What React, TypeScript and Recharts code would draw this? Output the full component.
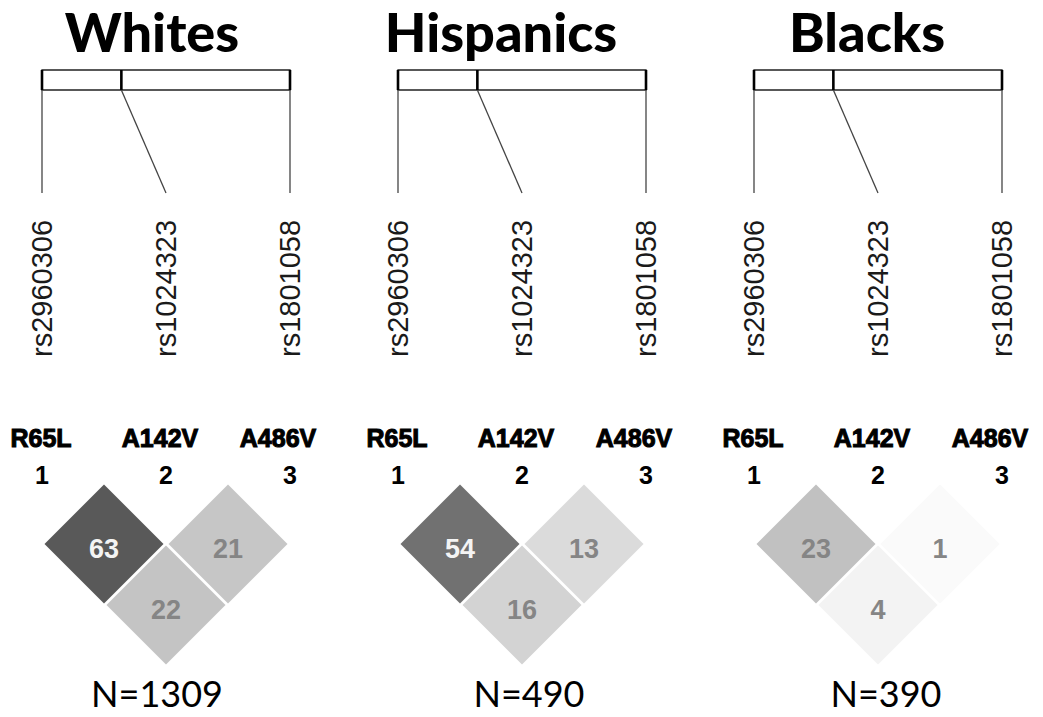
import {
  ScatterChart,
  Scatter,
  XAxis,
  YAxis,
  ReferenceArea,
  ReferenceLine,
} from "recharts";

const populations = ["Whites", "Hispanics", "Blacks"];
const sampleSizes = [1309, 490, 390];
const snpIds = ["rs2960306", "rs1024323", "rs1801058"];
const markerNames = ["R65L", "A142V", "A486V"];
const markerNumbers = [1, 2, 3];
// relative position of each SNP along the gene (first = 0, last = 1)
const snpGenePos = [0, 0.32, 1];
// pairwise LD (r2 x 100), pairs are 1-2, 2-3, 1-3
const ldPairs = [
  [0, 1],
  [1, 2],
  [0, 2],
];
const ldWhites = [63, 21, 22];
const ldHispanics = [54, 13, 16];
const ldBlacks = [23, 1, 4];
const ldByPop = [ldWhites, ldHispanics, ldBlacks];

// layout (chart units = pixels)
const W = 1043;
const H = 717;
const PANEL_DX = 356;
const MARKER_X0 = 42;
const MARKER_STEP = 124;
const GENE_X0 = 42;
const GENE_LEN = 248;
const GENE_Y0 = 70;
const GENE_Y1 = 90;
const LINK_Y = 193;
const SNP_LABEL_Y = 357;
const TITLE_Y = 52;
const TITLE_DX = [152, 145, 155];
const NAME_Y = 447;
const NAME_X = [41, 160, 278];
const NUM_Y = 484;
const LD_Y0 = 483;
const LD_ROW = 61;
const LD_HALF = 59.5;
const N_Y = 707;
const N_DX = [157, 173, 174];

const markerX = (k: number, i: number) => k * PANEL_DX + MARKER_X0 + i * MARKER_STEP;
const geneX = (k: number, i: number) => k * PANEL_DX + GENE_X0 + snpGenePos[i] * GENE_LEN;

const titles = populations.map((p, k) => ({ x: k * PANEL_DX + TITLE_DX[k], y: TITLE_Y, text: p }));
const nLabels = sampleSizes.map((n, k) => ({ x: k * PANEL_DX + N_DX[k], y: N_Y, text: `N=${n}` }));

const snpLabels = populations.flatMap((_, k) =>
  snpIds.map((id, i) => ({ x: markerX(k, i), y: SNP_LABEL_Y, text: id }))
);
const nameLabels = populations.flatMap((_, k) =>
  markerNames.map((m, i) => ({ x: k * PANEL_DX + NAME_X[i], y: NAME_Y, text: m }))
);
const numLabels = populations.flatMap((_, k) =>
  markerNumbers.map((n, i) => ({ x: markerX(k, i), y: NUM_Y, text: String(n) }))
);
const ldCells = populations.flatMap((_, k) =>
  ldByPop[k].map((v, p) => {
    const [i, j] = ldPairs[p];
    return {
      x: (markerX(k, i) + markerX(k, j)) / 2,
      y: LD_Y0 + (j - i) * LD_ROW,
      value: v,
    };
  })
);

const shade = (v: number) => {
  const g = Math.round(Math.max(0, Math.min(255, 253 - v * 2.6)));
  return `rgb(${g},${g},${g})`;
};

const TitleShape = (props: any) => (
  <text
    x={props.cx}
    y={props.cy}
    textAnchor="middle"
    fontFamily="Lato, 'Open Sans', sans-serif"
    fontWeight={900}
    fontSize={54}
    fill="#000"
  >
    {props.payload.text}
  </text>
);

const NShape = (props: any) => (
  <text
    x={props.cx}
    y={props.cy}
    textAnchor="middle"
    fontFamily="Lato, 'Open Sans', sans-serif"
    fontSize={36}
    fill="#000"
  >
    {props.payload.text}
  </text>
);

const SnpShape = (props: any) => (
  <text
    transform={`translate(${props.cx},${props.cy}) rotate(-90)`}
    dy={10}
    textAnchor="start"
    fontFamily="'Liberation Sans', Arial, sans-serif"
    fontSize={29}
    fill="#1a1a1a"
  >
    {props.payload.text}
  </text>
);

const NameShape = (props: any) => (
  <text
    x={props.cx}
    y={props.cy}
    textAnchor="middle"
    fontFamily="'Liberation Sans', Arial, sans-serif"
    fontWeight="bold"
    fontSize={25}
    fill="#000"
    stroke="#000"
    strokeWidth={1}
  >
    {props.payload.text}
  </text>
);

const NumShape = (props: any) => (
  <text
    x={props.cx}
    y={props.cy}
    textAnchor="middle"
    fontFamily="'Liberation Sans', Arial, sans-serif"
    fontWeight="bold"
    fontSize={25}
    fill="#000"
  >
    {props.payload.text}
  </text>
);

const DiamondShape = (props: any) => {
  const { cx, cy, payload } = props;
  const v = payload.value;
  const pts = `${cx},${cy - LD_HALF} ${cx + LD_HALF},${cy} ${cx},${cy + LD_HALF} ${cx - LD_HALF},${cy}`;
  return (
    <g>
      <polygon points={pts} fill={shade(v)} />
      <text
        x={cx}
        y={cy + 14}
        textAnchor="middle"
        fontFamily="'Liberation Sans', Arial, sans-serif"
        fontWeight="bold"
        fontSize={27}
        fill={v > 40 ? "#f4f4f4" : "#858585"}
      >
        {v}
      </text>
    </g>
  );
};

export default function App() {
  return (
    <div style={{ position: "absolute", left: 0, top: 0, background: "#fff" }}>
      <ScatterChart width={W} height={H} margin={{ top: 0, right: 0, bottom: 0, left: 0 }}>
        <XAxis type="number" dataKey="x" domain={[0, W]} hide />
        <YAxis type="number" dataKey="y" domain={[0, H]} reversed hide />

        {populations.map((p, k) => (
          <ReferenceArea
            key={`gene-${p}`}
            x1={geneX(k, 0)}
            x2={geneX(k, 2)}
            y1={GENE_Y0}
            y2={GENE_Y1}
            fill="none"
            fillOpacity={0}
            stroke="#222"
            strokeWidth={1.3}
          />
        ))}
        {populations.flatMap((p, k) =>
          snpIds.map((id, i) => (
            <ReferenceLine
              key={`tick-${p}-${id}`}
              segment={[
                { x: geneX(k, i), y: GENE_Y0 },
                { x: geneX(k, i), y: GENE_Y1 },
              ]}
              stroke="#000"
              strokeWidth={2.6}
            />
          ))
        )}
        {populations.flatMap((p, k) =>
          snpIds.map((id, i) => (
            <ReferenceLine
              key={`link-${p}-${id}`}
              segment={[
                { x: geneX(k, i), y: GENE_Y1 },
                { x: markerX(k, i), y: LINK_Y },
              ]}
              stroke="#444"
              strokeWidth={1.3}
            />
          ))
        )}

        <Scatter data={titles} shape={TitleShape} isAnimationActive={false} />
        <Scatter data={snpLabels} shape={SnpShape} isAnimationActive={false} />
        <Scatter data={nameLabels} shape={NameShape} isAnimationActive={false} />
        <Scatter data={numLabels} shape={NumShape} isAnimationActive={false} />
        <Scatter data={ldCells} shape={DiamondShape} isAnimationActive={false} />
        <Scatter data={nLabels} shape={NShape} isAnimationActive={false} />
      </ScatterChart>
    </div>
  );
}
